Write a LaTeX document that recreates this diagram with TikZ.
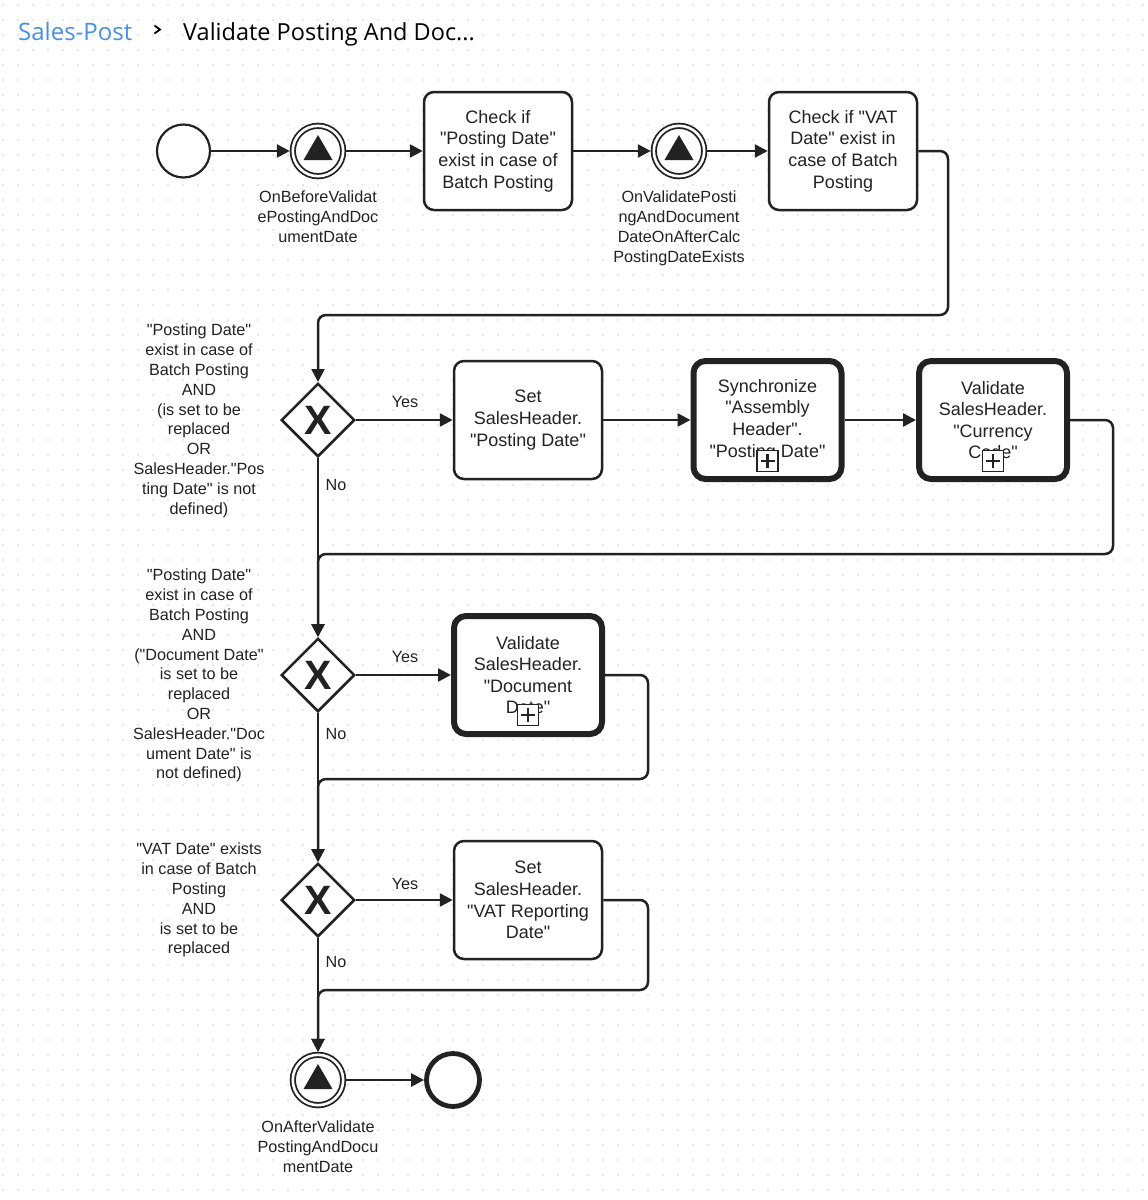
\documentclass[tikz,border=0pt]{standalone}
\usepackage{fontspec}
\setmainfont{Liberation Sans}
\newfontfamily\lsans{Liberation Sans}
\newfontfamily\lsansbold{Liberation Sans Bold}
\newfontfamily\hdrfont{Open Sans}
\usetikzlibrary{arrows.meta,shapes.geometric}
\definecolor{dotc}{HTML}{CFCFCF}
\definecolor{linkblue}{HTML}{4A8FE2}
\definecolor{ink}{HTML}{222222}
\begin{document}
\begin{tikzpicture}[x=1pt,y=-1pt,
  flow/.style={draw=ink, line width=2.5pt, rounded corners=8pt, -{Triangle[length=13pt,width=13pt]}},
  taskbox/.style={draw=ink, line width=2.5pt, rounded corners=10pt, fill=white, minimum width=148pt, minimum height=118pt, inner sep=0pt, align=center, text=ink, font=\lsans\fontsize{18}{21.6}\selectfont},
  subbox/.style={taskbox, line width=6pt, rounded corners=12pt},
  plusbox/.style={draw=ink, line width=1.5pt, fill=white, minimum size=21pt, inner sep=0pt,
    path picture={
      \draw[ink, line width=2.5pt] ([yshift=-3.5pt]path picture bounding box.north) -- ([yshift=3.5pt]path picture bounding box.south);
      \draw[ink, line width=2.5pt] ([xshift=3.5pt]path picture bounding box.west) -- ([xshift=-3.5pt]path picture bounding box.east);}},
  startev/.style={circle, draw=ink, line width=2.2pt, fill=white, minimum size=53pt, inner sep=0pt},
  endev/.style={circle, draw=ink, line width=4.8pt, fill=white, minimum size=53pt, inner sep=0pt, outer sep=2.4pt},
  interev/.style={circle, draw=ink, line width=1.8pt, double=white, double distance=2.6pt, fill=white, minimum size=50.4pt, inner sep=0pt, outer sep=3pt,
    path picture={
      \fill[ink] ([yshift=16pt]path picture bounding box.center) -- ([xshift=-14.5pt,yshift=-9pt]path picture bounding box.center) -- ([xshift=14.5pt,yshift=-9pt]path picture bounding box.center) -- cycle;}},
  gateway/.style={diamond, aspect=1, draw=ink, line width=2.5pt, fill=white, minimum width=73.5pt, minimum height=73.5pt, inner sep=0pt, text=ink, font=\lsansbold\fontsize{41}{41}\selectfont},
  lbl/.style={inner sep=0pt, align=center, text=ink, font=\lsans\fontsize{16.2}{19.8}\selectfont},
]
\useasboundingbox (0,0) rectangle (1148,1200);
\fill[white] (0,0) rectangle (1148,1200);
\foreach \x in {3,18,...,1148} {
  \foreach \y in {5,20,...,1200} {
    \fill[dotc] (\x,\y) circle (0.9pt);
  }
}

% header
\node[anchor=base west, inner sep=0pt, font=\hdrfont\fontsize{24}{28}\selectfont, text=linkblue] (h1) at (18,40) {Sales-Post};
\node[anchor=base west, inner sep=0pt, font=\hdrfont\fontsize{23.5}{28}\selectfont, text=black] (h2) at (183,40) {Validate Posting And Doc...};
\draw[black, line width=1.8pt] (154.5,25.5) -- (160,29.5) -- (154.5,33.5);

% row 1
\node[startev] (s) at (183.5,151) {};
\node[interev] (e1) at (318,151) {};
\node[lbl, anchor=north] (e1l) at (318,191) {OnBeforeValidat\\ePostingAndDoc\\umentDate};
\node[taskbox] (t1) at (498,151) {Check if\\"Posting Date"\\exist in case of\\Batch Posting};
\node[interev] (e2) at (679,151) {};
\node[lbl, anchor=north] (e2l) at (679,191) {OnValidatePosti\\ngAndDocument\\DateOnAfterCalc\\PostingDateExists};
\node[taskbox] (t2) at (843,151) {Check if "VAT\\Date" exist in\\case of Batch\\Posting};

% gateway 1 row
\node[gateway] (g1) at (318,420) {X};
\node[lbl, anchor=north] (g1l) at (199,324) {"Posting Date"\\exist in case of\\Batch Posting\\AND\\(is set to be\\replaced\\OR\\SalesHeader."Pos\\ting Date" is not\\defined)};
\node[taskbox] (t3) at (528,420) {Set\\SalesHeader.\\"Posting Date"};
\node[subbox] (t4) at (767.5,420) {Synchronize\\"Assembly\\Header".\\"Posting Date"};
\node[plusbox] (p4) at (767.5,461) {};
\node[subbox] (t5) at (993,420) {Validate\\SalesHeader.\\"Currency\\Code"};
\node[plusbox] (p5) at (993,461) {};
\node[lbl] (y1) at (405,402) {Yes};
\node[lbl] (n1) at (336,485) {No};

% gateway 2 row
\node[gateway] (g2) at (318,675) {X};
\node[lbl, anchor=north] (g2l) at (199,569) {"Posting Date"\\exist in case of\\Batch Posting\\AND\\("Document Date"\\is set to be\\replaced\\OR\\SalesHeader."Doc\\ument Date" is\\not defined)};
\node[subbox] (t6) at (528,675) {Validate\\SalesHeader.\\"Document\\Date"};
\node[plusbox] (p6) at (528,715) {};
\node[lbl] (y2) at (405,657) {Yes};
\node[lbl] (n2) at (336,734) {No};

% gateway 3 row
\node[gateway] (g3) at (318,900) {X};
\node[lbl, anchor=north] (g3l) at (199,843) {"VAT Date" exists\\in case of Batch\\Posting\\AND\\is set to be\\replaced};
\node[taskbox] (t7) at (528,900) {Set\\SalesHeader.\\"VAT Reporting\\Date"};
\node[lbl] (y3) at (405,884) {Yes};
\node[lbl] (n3) at (336,962) {No};

% end
\node[interev] (e3) at (318,1080) {};
\node[lbl, anchor=north] (e3l) at (318,1121) {OnAfterValidate\\PostingAndDocu\\mentDate};
\node[endev] (en) at (453,1080) {};

% bend points
\coordinate (k1) at (948,315);
\coordinate (k2) at (1113,554);
\coordinate (k3) at (648,779);
\coordinate (k4) at (648,990);

% connectors
\draw[flow] (s) -- (e1);
\draw[flow] (e1) -- (t1);
\draw[flow] (t1) -- (e2);
\draw[flow] (e2) -- (t2);
\draw[flow] (t2.east) -| (k1) -| (g1.north);
\draw[flow] (g1.east) -- (t3.west);
\draw[flow] (t3.east) -- (t4.west);
\draw[flow] (t4.east) -- (t5.west);
\draw[flow] (t5.east) -| (k2) -| (g2.north);
\draw[flow] (g1.south) -- (g2.north);
\draw[flow] (g2.east) -- (t6.west);
\draw[flow] (t6.east) -| (k3) -| (g3.north);
\draw[flow] (g2.south) -- (g3.north);
\draw[flow] (g3.east) -- (t7.west);
\draw[flow] (t7.east) -| (k4) -| (e3.north);
\draw[flow] (g3.south) -- (e3.north);
\draw[flow] (e3) -- (en);
\end{tikzpicture}
\end{document}
